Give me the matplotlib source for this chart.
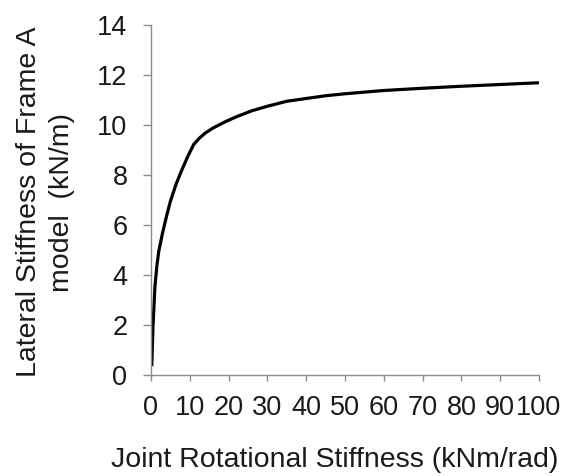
import matplotlib
matplotlib.use("Agg")
import matplotlib.pyplot as plt

# Data
rot_stiffness = [0.2, 0.5, 1, 1.5, 2, 3, 4, 5, 6.5, 8, 9.5, 11, 12.5, 14, 16,
                 19, 22, 26, 30, 35, 40, 45, 50, 60, 70, 80, 90, 100]
lat_stiffness = [0.35, 1.9, 3.5, 4.35, 4.95, 5.7, 6.35, 6.95, 7.65, 8.22,
                 8.75, 9.22, 9.48, 9.68, 9.88, 10.12, 10.33, 10.57, 10.75,
                 10.95, 11.06, 11.17, 11.25, 11.38, 11.47, 11.55, 11.62, 11.69]
x_ticks = [0, 10, 20, 30, 40, 50, 60, 70, 80, 90, 100]
y_ticks = [0, 2, 4, 6, 8, 10, 12, 14]
x_label = "Joint Rotational Stiffness (kNm/rad)"
y_label = "Lateral Stiffness of Frame A\nmodel  (kN/m)"

plt.rcParams['font.family'] = ['Liberation Sans', 'DejaVu Sans']

W, H = 568, 476
fig = plt.figure(figsize=(W / 100, H / 100), dpi=100)
ax = fig.add_axes([151 / W, 1 - 375 / H, (539 - 151) / W, (375 - 25) / H])

ax.plot(rot_stiffness, lat_stiffness, color='black', lw=2.3,
        solid_capstyle='butt', solid_joinstyle='round')

ax.set_xlim(0, 100)
ax.set_ylim(0, 14)
ax.set_xticks(x_ticks)
ax.set_yticks(y_ticks)

spine_color = '#8c8c8c'
for s in ['top', 'right']:
    ax.spines[s].set_visible(False)
for s in ['left', 'bottom']:
    ax.spines[s].set_color(spine_color)
    ax.spines[s].set_linewidth(1.0)

ax.tick_params(axis='y', direction='out', length=6, width=1.0,
               color=spine_color, labelsize=19.5, pad=11, labelcolor='#1a1a1a')
ax.tick_params(axis='x', direction='out', length=4.5, width=1.0,
               color=spine_color, labelsize=19.5, pad=10, labelcolor='#1a1a1a')

fig.text(335 / W, 1 - 467 / H, x_label, ha='center', va='baseline',
         fontsize=20.5, color='#1a1a1a')
fig.text(45.5 / W, 1 - 202 / H, y_label, ha='center', va='center',
         rotation=90, multialignment='center', fontsize=20.5,
         color='#1a1a1a', linespacing=1.35)

fig.savefig('out.png', dpi=100)
